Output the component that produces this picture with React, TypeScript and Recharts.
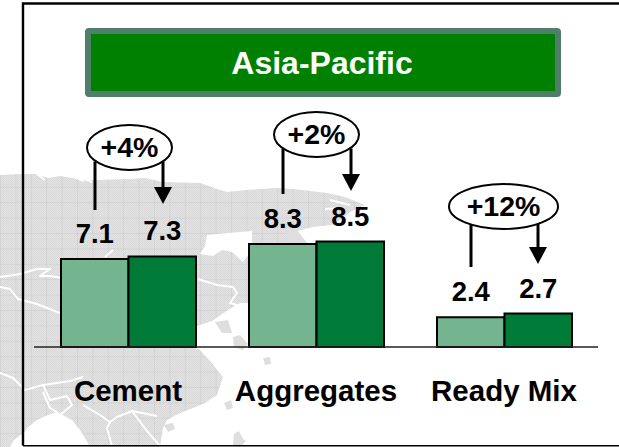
import { BarChart, Bar, XAxis, YAxis, LabelList } from 'recharts';

const categories = ['Cement', 'Aggregates', 'Ready Mix'];
const priorValues = [7.1, 8.3, 2.4];
const currentValues = [7.3, 8.5, 2.7];
const growthLabels = ['+4%', '+2%', '+12%'];

const chartData = categories.map((name, i) => ({
  name,
  prior: priorValues[i],
  current: currentValues[i],
}));

const FONT = '"Liberation Sans", Arial, sans-serif';

// growth callouts: ellipse plus a plain line and an arrow running down to the bar pair
const callouts = [
  { cx: 129.5, cy: 147.5, rx: 42.5, lineX: 95, lineEnd: 210, arrowX: 163, arrowTip: 204 },
  { cx: 316.5, cy: 134.5, rx: 42.5, lineX: 283, lineEnd: 194, arrowX: 351, arrowTip: 191 },
  { cx: 503.5, cy: 206.5, rx: 54.5, lineX: 471, lineEnd: 267, arrowX: 538, arrowTip: 264 },
];

const LAND =
  'M0,175 L20,174 L35,174 L48,178 L60,176 L85,180 L100,180 L128,179 L145,178 L163,182 L200,183 L214,188 L227,192 L245,190 L260,189 L277,188 L293,189 L327,193 L345,197 L365,205 L352,211 L345,216 L332,225 L313,227 L297,231 L307,243 L290,244 L250,244 L250,263 L250,310 L240,305 L249,347 L197,347 L212,363 L217,370 L223,377 L217,395 L205,403 L193,408 L178,414 L167,420 L163,428 L160,447 L0,447 Z';

const SEA_PATCHES = [
  // inlet beside the second bar group
  'M207,235 L228,233 L252,231 L252,250 L243,262 L232,252 L222,250 L213,256 L200,254 L205,246 Z',
  // strait between the first and second bar groups
  'M197,326 L212,321 L228,310 L240,303 L252,303 L252,349 L196,349 Z',
  // southern gulf
  'M21,447 L23,435 L27,428 L37,420 L48,415 L57,412 L72,420 L80,430 L85,438 L90,447 Z',
  'M14,440 L22,434 L22,447 L10,447 Z',
];

const LAND_ISLETS = [
  'M215,322 L228,320 L232,333 L222,333 Z',
  'M233,337 L240,335 L248,344 L243,350 L234,347 Z',
  'M224,403 L231,400 L233,408 L227,410 Z',
  'M164,425 L173,423 L175,429 L168,432 Z',
  'M234,434 L239,431 L243,439 L246,441 L240,447 L233,445 Z',
  'M263,358 L270,357 L271,364 L265,365 Z',
  'M287,232 L297,230 L307,243 L288,243 Z',
];

const COAST_LINES = [
  'M0,277 L20,274 L37,269 L50,269 L40,276 L50,276 L62,278',
  'M0,287 L10,289 L18,299 L37,304 L60,313',
  'M0,373 L13,378 L25,390 L43,385 L70,381 L83,377',
  'M43,385 L50,400 L67,396 L72,405 L60,415',
  'M43,392 L50,408 L57,412',
  'M83,405 L100,415 L110,422 L117,417 L132,411 L157,416',
  'M110,422 L107,428 L112,446',
  'M132,411 L147,431 L160,446',
  'M198,279 L217,285 L233,287 L237,293 L230,303 L240,306',
  'M105,257 L113,250',
  'M37,174 L45,180',
  'M64,173 L84,181',
  'M80,177 L92,182',
  'M325,209 L342,208',
  'M330,200 L350,205',
];

function MapBackdrop() {
  return (
    <svg width={619} height={447} style={{ position: 'absolute', left: 0, top: 0 }}>
      <defs>
        <pattern id="dither" width={2} height={2} patternUnits="userSpaceOnUse">
          <rect width={2} height={2} fill="#e3e3e3" />
          <rect width={1} height={1} fill="#d9d9d9" />
          <rect x={1} y={1} width={1} height={1} fill="#d9d9d9" />
        </pattern>
        <pattern id="graticule" width={15.4} height={15.4} patternUnits="userSpaceOnUse" patternTransform="translate(0,2)">
          <path d="M15.4,0 L0,0 L0,15.4" fill="none" stroke="#c9c9c9" strokeWidth={1} />
        </pattern>
      </defs>
      <rect width={619} height={447} fill="#fff" />
      <path d={LAND} fill="url(#dither)" />
      <path d={LAND} fill="url(#graticule)" />
      {SEA_PATCHES.map((d, i) => (
        <path key={i} d={d} fill="#fff" />
      ))}
      {LAND_ISLETS.map((d, i) => (
        <path key={i} d={d} fill="#dedede" />
      ))}
      {COAST_LINES.map((d, i) => (
        <path key={i} d={d} fill="none" stroke="#fff" strokeWidth={2} strokeLinejoin="round" />
      ))}
      {/* slide frame, open on the right */}
      <path d="M619,3.5 L23,3.5 L23,445.5" fill="none" stroke="#000" strokeWidth={2.4} />
      <path d="M23,445.7 L619,445.7" fill="none" stroke="#000" strokeWidth={1.4} />
    </svg>
  );
}

function Overlay() {
  return (
    <svg width={619} height={447} style={{ position: 'absolute', left: 0, top: 0, pointerEvents: 'none' }}>
      <rect x={88} y={31} width={470} height={63} rx={1} fill="#008000" stroke="#4f7f69" strokeWidth={6} strokeLinejoin="round" />
      <text x={322} y={74} textAnchor="middle" fontFamily={FONT} fontSize={32} fontWeight={700} fill="#fff">
        Asia-Pacific
      </text>
      {callouts.map((c, i) => (
        <g key={growthLabels[i]}>
          <line x1={c.lineX} x2={c.lineX} y1={c.cy + 14} y2={c.lineEnd} stroke="#000" strokeWidth={3} />
          <line x1={c.arrowX} x2={c.arrowX} y1={c.cy + 14} y2={c.arrowTip - 14} stroke="#000" strokeWidth={3} />
          <path d={`M${c.arrowX - 9},${c.arrowTip - 17} L${c.arrowX + 9},${c.arrowTip - 17} L${c.arrowX},${c.arrowTip} Z`} fill="#000" />
          <ellipse cx={c.cx} cy={c.cy} rx={c.rx} ry={22.5} fill="#fff" stroke="#000" strokeWidth={2} />
          <text x={c.cx} y={c.cy + 9.5} textAnchor="middle" fontFamily={FONT} fontSize={28.5} fontWeight={700} fill="#000">
            {growthLabels[i]}
          </text>
        </g>
      ))}
    </svg>
  );
}

const labelStyle = { fontFamily: FONT, fontSize: 27.5, fontWeight: 700, fill: '#000' };

export default function App() {
  return (
    <div style={{ position: 'absolute', left: 0, top: 0, width: 619, height: 447, overflow: 'hidden' }}>
      <MapBackdrop />
      <div style={{ position: 'absolute', left: 0, top: 0 }}>
        <BarChart
          width={619}
          height={447}
          data={chartData}
          margin={{ top: 99, right: 21, bottom: 0, left: 34 }}
          barSize={67.5}
          barGap={0}
        >
          <XAxis
            dataKey="name"
            height={100}
            interval={0}
            tickLine={false}
            tickMargin={27}
            axisLine={{ stroke: '#222', strokeWidth: 1.5 }}
            tick={{ fontFamily: FONT, fontSize: 29.5, fontWeight: 700, fill: '#000' }}
          />
          <YAxis hide domain={[0, 20]} />
          <Bar dataKey="prior" fill="#74b58f" stroke="#000" strokeWidth={2} isAnimationActive={false}>
            <LabelList dataKey="prior" position="top" offset={16} style={labelStyle} />
          </Bar>
          <Bar dataKey="current" fill="#007a37" stroke="#000" strokeWidth={2} isAnimationActive={false}>
            <LabelList dataKey="current" position="top" offset={16} style={labelStyle} />
          </Bar>
        </BarChart>
      </div>
      <Overlay />
    </div>
  );
}
